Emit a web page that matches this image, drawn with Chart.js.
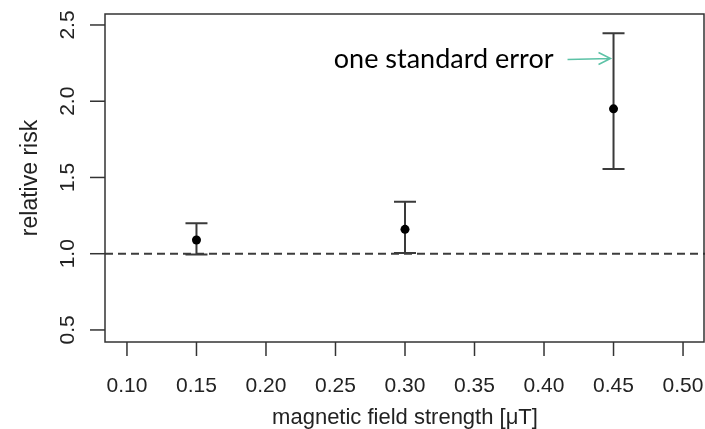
<!DOCTYPE html>
<html>
<head>
<meta charset="utf-8">
<script src="https://cdn.jsdelivr.net/npm/chart.js@4"></script>
<style>
  html, body { margin: 0; padding: 0; background: #fff; }
  #wrap { width: 705px; height: 429px; }
</style>
</head>
<body>
<div id="wrap"><canvas id="chart" width="705" height="429"></canvas></div>
<script>
// data
const fieldStrength = [0.15, 0.30, 0.45];      // µT
const relRisk = [1.09, 1.16, 1.95];
const seLower = [0.995, 1.005, 1.555];
const seUpper = [1.20, 1.34, 2.445];
const refRisk = 1.0;
const xTicks = [0.10, 0.15, 0.20, 0.25, 0.30, 0.35, 0.40, 0.45, 0.50];
const yTicks = [0.5, 1.0, 1.5, 2.0, 2.5];
const noteText = 'one standard error';

const axisColor = '#333333';
const labelFont = '"Liberation Sans", Arial, sans-serif';

// R-style box, ticks, error bars and the note
const rStyle = {
    id: 'rStyle',
    beforeDatasetsDraw(chart) {
        const ctx = chart.ctx;
        const area = chart.chartArea;
        const xs = chart.scales.x, ys = chart.scales.y;
        ctx.save();
        // dashed reference line
        ctx.strokeStyle = '#3c3c3c';
        ctx.lineWidth = 2;
        ctx.setLineDash([8, 5]);
        const yRef = ys.getPixelForValue(refRisk);
        ctx.beginPath();
        ctx.moveTo(area.left, yRef);
        ctx.lineTo(area.right, yRef);
        ctx.stroke();
        ctx.setLineDash([]);
        // error bars
        ctx.strokeStyle = '#3a3a3a';
        ctx.lineWidth = 2;
        fieldStrength.forEach((x, i) => {
            const px = xs.getPixelForValue(x);
            const lo = ys.getPixelForValue(seLower[i]);
            const hi = ys.getPixelForValue(seUpper[i]);
            ctx.beginPath();
            ctx.moveTo(px, lo); ctx.lineTo(px, hi);
            ctx.moveTo(px - 11, lo); ctx.lineTo(px + 11, lo);
            ctx.moveTo(px - 11, hi); ctx.lineTo(px + 11, hi);
            ctx.stroke();
        });
        ctx.restore();
    },
    afterDraw(chart) {
        const ctx = chart.ctx;
        const area = chart.chartArea;
        const xs = chart.scales.x, ys = chart.scales.y;
        ctx.save();
        // box
        ctx.strokeStyle = axisColor;
        ctx.lineWidth = 1.5;
        ctx.strokeRect(area.left, area.top, area.right - area.left - 1, area.bottom - area.top);
        // x ticks + labels
        ctx.fillStyle = '#222222';
        ctx.font = '21px ' + labelFont;
        ctx.textAlign = 'center';
        ctx.textBaseline = 'middle';
        xTicks.forEach(v => {
            const px = xs.getPixelForValue(v);
            ctx.beginPath();
            ctx.moveTo(px, area.bottom);
            ctx.lineTo(px, area.bottom + 14);
            ctx.stroke();
            ctx.fillText(v.toFixed(2), px, area.bottom + 44);
        });
        // y ticks + rotated labels
        yTicks.forEach(v => {
            const py = ys.getPixelForValue(v);
            ctx.beginPath();
            ctx.moveTo(area.left, py);
            ctx.lineTo(area.left - 15, py);
            ctx.stroke();
            ctx.save();
            ctx.translate(area.left - 37, py);
            ctx.rotate(-Math.PI / 2);
            ctx.fillText(v.toFixed(1), 0, 0);
            ctx.restore();
        });
        // axis titles
        ctx.font = '22px ' + labelFont;
        ctx.fillText('magnetic field strength [\u03BCT]', (area.left + area.right) / 2, area.bottom + 76);
        ctx.save();
        ctx.translate(31, (area.top + area.bottom) / 2);
        ctx.rotate(-Math.PI / 2);
        ctx.font = '23px ' + labelFont;
        ctx.fillText('relative risk', 0, 0);
        ctx.restore();
        // note with arrow pointing at the top error bar
        const last = fieldStrength.length - 1;
        const tipX = xs.getPixelForValue(fieldStrength[last]) - 3;
        const tipY = ys.getPixelForValue(2.28);
        ctx.strokeStyle = '#5cc2a6';
        ctx.lineWidth = 1.5;
        ctx.beginPath();
        ctx.moveTo(tipX - 43, tipY + 1);
        ctx.lineTo(tipX, tipY);
        ctx.moveTo(tipX - 12, tipY - 6);
        ctx.lineTo(tipX, tipY);
        ctx.lineTo(tipX - 12, tipY + 6);
        ctx.stroke();
        ctx.fillStyle = '#000000';
        ctx.font = '27px Lato, "Open Sans", sans-serif';
        ctx.textAlign = 'right';
        ctx.fillText(noteText, tipX - 57, tipY + 1);
        ctx.restore();
    }
};

new Chart(document.getElementById('chart'), {
    type: 'scatter',
    data: {
        datasets: [{
            data: fieldStrength.map((x, i) => ({ x: x, y: relRisk[i] })),
            pointRadius: 4.5,
            pointHoverRadius: 4.5,
            backgroundColor: '#000000',
            borderWidth: 0
        }]
    },
    options: {
        responsive: false,
        animation: false,
        events: [],
        layout: { autoPadding: false, padding: { left: 105, right: 0, top: 14, bottom: 87 } },
        plugins: { legend: { display: false }, tooltip: { enabled: false } },
        scales: {
            x: { type: 'linear', display: false, min: 0.0842, max: 0.5158 },
            y: { type: 'linear', display: false, min: 0.421, max: 2.572 }
        }
    },
    plugins: [rStyle]
});
</script>
</body>
</html>
